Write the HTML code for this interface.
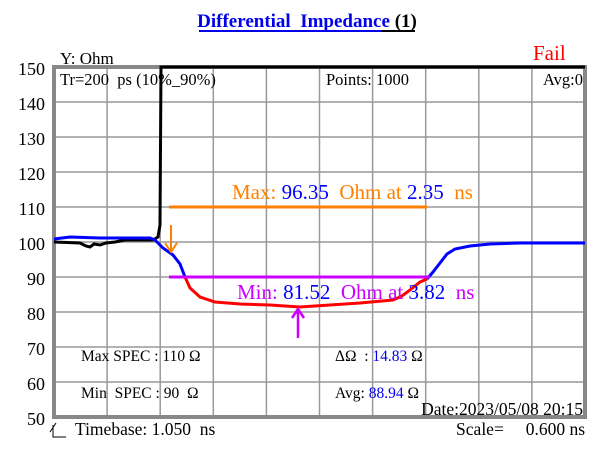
<!DOCTYPE html>
<html><head><meta charset="utf-8"><style>
html,body{margin:0;padding:0;background:#fff;}
svg{display:block;font-family:"Liberation Serif",serif;}
text{white-space:pre;}
</style></head><body>
<svg width="615" height="457" viewBox="0 0 615 457" xmlns="http://www.w3.org/2000/svg" xml:space="preserve">
<text x="307" y="27" text-anchor="middle" font-size="19" font-weight="bold"><tspan fill="#0000ee">Differential  Impedance </tspan><tspan fill="#000">(1)</tspan></text>
<line x1="199" y1="31" x2="415" y2="31" stroke="#0000ee" stroke-width="2"/>
<line x1="381" y1="31" x2="415" y2="31" stroke="#000" stroke-width="2"/>
<text x="60" y="64" font-size="17">Y: Ohm</text>
<text x="533" y="60" font-size="21" fill="#ff0000">Fail</text>
<g font-size="18" text-anchor="end">
<text x="45" y="75">150</text><text x="45" y="110">140</text><text x="45" y="145">130</text><text x="45" y="180">120</text><text x="45" y="215">110</text><text x="45" y="250">100</text><text x="45" y="285">90</text><text x="45" y="320">80</text><text x="45" y="355">70</text><text x="45" y="390">60</text><text x="45" y="425">50</text>
</g>
<g stroke="#999" stroke-width="1.5">
<line x1="107.1" y1="67" x2="107.1" y2="417"/><line x1="160.2" y1="67" x2="160.2" y2="417"/><line x1="213.3" y1="67" x2="213.3" y2="417"/><line x1="266.4" y1="67" x2="266.4" y2="417"/><line x1="319.5" y1="67" x2="319.5" y2="417"/><line x1="372.6" y1="67" x2="372.6" y2="417"/><line x1="425.7" y1="67" x2="425.7" y2="417"/><line x1="478.8" y1="67" x2="478.8" y2="417"/><line x1="531.9" y1="67" x2="531.9" y2="417"/>
<line x1="54" y1="102" x2="585" y2="102"/><line x1="54" y1="137" x2="585" y2="137"/><line x1="54" y1="172" x2="585" y2="172"/><line x1="54" y1="207" x2="585" y2="207"/><line x1="54" y1="242" x2="585" y2="242"/><line x1="54" y1="277" x2="585" y2="277"/><line x1="54" y1="312" x2="585" y2="312"/><line x1="54" y1="347" x2="585" y2="347"/><line x1="54" y1="382" x2="585" y2="382"/>
</g>
<rect x="54" y="67" width="531" height="350" fill="none" stroke="#888" stroke-width="4"/>
<g font-size="16.5">
<text x="60" y="85">Tr=200  ps (10%_90%)</text>
<text x="326" y="85">Points: 1000</text>
<text x="583" y="85" text-anchor="end">Avg:0</text>
</g>
<g font-size="15.5">
<text x="81" y="361">Max SPEC : 110 Ω</text>
<text x="81" y="398">Min  SPEC : 90  Ω</text>
<text x="335" y="361">ΔΩ  : <tspan fill="#0000ee">14.83</tspan> Ω</text>
<text x="335" y="398">Avg: <tspan fill="#0000ee">88.94</tspan> Ω</text>
</g>
<text x="583" y="415" font-size="17.5" text-anchor="end">Date:2023/05/08 20:15</text>
<text x="75" y="435" font-size="17.5">Timebase: 1.050  ns</text>
<text x="585" y="435" font-size="17.5" text-anchor="end">Scale=     0.600 ns</text>
<path d="M50 432 L56 423 M53 425 L53 437 L66 437" stroke="#000" stroke-width="1" fill="none"/>
<polyline fill="none" stroke="#000" stroke-width="3" points="54,242 80,243 86,246 90,247 94,244 100,245 106,243 115,242 125,240 140,240 153,240 158,237 160,225 161,67 585,67"/>
<polyline fill="none" stroke="#0000ff" stroke-width="3" points="54,239 70,237 100,238 130,238 150,238 155,240 163,248 173,255 180,264 185,277"/>
<polyline fill="none" stroke="#ff0000" stroke-width="3" points="185,277 190,288 200,297 215,302 240,304 270,305 300,307 330,305 360,303 393,300 402,296 410,290 420,282 427,279"/>
<polyline fill="none" stroke="#0000ff" stroke-width="3" points="427,279 433,272 440,263 447,254 455,249 470,246 490,244 520,243 585,243"/>
<line x1="169" y1="207" x2="427" y2="207" stroke="#ff8000" stroke-width="3"/>
<path d="M171 225 L171 252 M165 243 L171 252 L177 243" stroke="#ff8000" stroke-width="2" fill="none"/>
<line x1="169" y1="277" x2="430" y2="277" stroke="#cc00ff" stroke-width="3"/>
<path d="M298 338 L298 309 M292 318 L298 309 L304 318" stroke="#cc00ff" stroke-width="2.5" fill="none"/>
<text x="232" y="199" font-size="21" fill="#ff8000">Max: <tspan fill="#0000ff">96.35</tspan>  Ohm at <tspan fill="#0000ff">2.35</tspan>  ns</text>
<text x="237" y="299" font-size="21" fill="#cc00ff">Min: <tspan fill="#0000ff">81.52</tspan>  Ohm at <tspan fill="#0000ff">3.82</tspan>  ns</text>
</svg>
</body></html>
